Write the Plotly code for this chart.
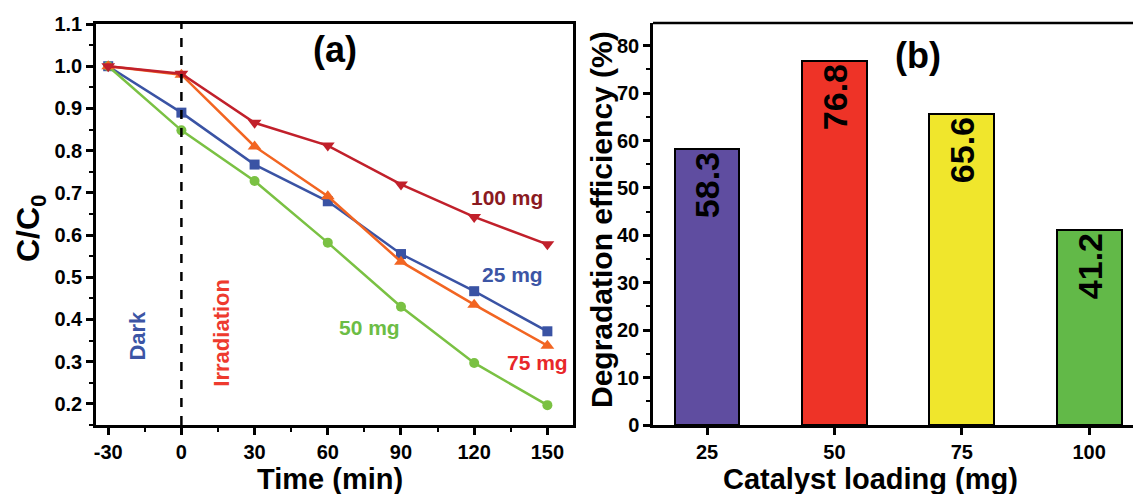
import plotly.graph_objects as go

# ---- data ----
time_min = [-30, 0, 30, 60, 90, 120, 150]
time_labels = ["-30", "0", "30", "60", "90", "120", "150"]
c25 = [1.0, 0.890, 0.767, 0.680, 0.555, 0.467, 0.372]
c50 = [1.0, 0.848, 0.728, 0.582, 0.430, 0.297, 0.197]
c75 = [1.0, 0.980, 0.810, 0.692, 0.537, 0.435, 0.338]
c100 = [1.0, 0.982, 0.866, 0.812, 0.720, 0.643, 0.578]

loading = [25, 50, 75, 100]
efficiency = [58.3, 76.8, 65.6, 41.2]
bar_colors = ["#5F4DA0", "#EE3327", "#F0E62C", "#62B948"]

FONT = "Arial, Liberation Sans, sans-serif"
W, H = 1133, 494

def px(x):
    return x / W

def py(y):
    return 1 - y / H

fig = go.Figure()

series = [
    ("25 mg", c25, "#3A53A4", "square", 10),
    ("50 mg", c50, "#7AC143", "circle", 10),
    ("75 mg", c75, "#F26522", "triangle-up", 12),
    ("100 mg", c100, "#C1202B", "triangle-down", 12),
]
for name, vals, col, sym, sz in series:
    fig.add_trace(go.Scatter(
        x=time_min, y=vals, mode="lines+markers", name=name,
        line=dict(color=col, width=2.5),
        marker=dict(symbol=sym, size=sz, color=col),
        xaxis="x", yaxis="y", showlegend=False))

fig.add_trace(go.Bar(
    x=loading, y=efficiency, width=12.7,
    marker=dict(color=bar_colors, line=dict(color="black", width=2)),
    text=[f"{v:.1f}" for v in efficiency], textposition="inside",
    insidetextanchor="end", textangle=-90,
    textfont=dict(family=FONT, size=34, color="black", weight="bold"),
    constraintext="none",
    xaxis="x2", yaxis="y2", showlegend=False))

tickfont = dict(family=FONT, size=20, color="black", weight="bold")
axis_common = dict(showline=True, linecolor="black", linewidth=2.5,
                   ticks="outside", ticklen=7, tickwidth=2.5, tickcolor="black",
                   showgrid=False, zeroline=False, tickfont=tickfont,
                   automargin=False)

fig.update_layout(
    width=W, height=H, margin=dict(l=0, r=0, t=0, b=0, autoexpand=False),
    plot_bgcolor="white", paper_bgcolor="white",
    font=dict(family=FONT, color="black"),
    bargap=0,
    xaxis=dict(domain=[px(96), px(573)], range=[-35, 160.5], anchor="y",
               tickvals=time_min, ticktext=time_labels, mirror=True,
               minor=dict(dtick=15, tick0=-30, ticks="outside", ticklen=4,
                          tickwidth=2, tickcolor="black"),
               **axis_common),
    yaxis=dict(domain=[py(425), py(24)], range=[0.15, 1.1], anchor="x",
               dtick=0.1, tickformat=".1f", mirror=True,
               minor=dict(dtick=0.05, ticks="outside", ticklen=4,
                          tickwidth=2, tickcolor="black"),
               **axis_common),
    xaxis2=dict(domain=[px(653), 1.0], range=[14.4, 108.6], anchor="y2",
                tickvals=loading, mirror=False, **axis_common),
    yaxis2=dict(domain=[py(425), py(23)], range=[0, 84.8], anchor="x2",
                dtick=10, mirror=False,
                minor=dict(dtick=5, ticks="outside", ticklen=4,
                           tickwidth=2, tickcolor="black"),
                **axis_common),
)

# top border of right panel
fig.add_shape(type="line", xref="x2 domain", yref="y2 domain",
              x0=0, x1=1, y0=1, y1=1, line=dict(color="black", width=2.5))
# dashed divider at t = 0
fig.add_shape(type="line", xref="x", yref="y domain", x0=0, x1=0, y0=0, y1=1,
              line=dict(color="black", width=2.5, dash="dash"))

def ann(text, x, y, color, size=21, xref="x", yref="y", angle=0):
    fig.add_annotation(text=text, x=x, y=y, xref=xref, yref=yref,
                       xanchor="center", yanchor="middle",
                       showarrow=False, textangle=angle,
                       font=dict(family=FONT, size=size, color=color, weight="bold"))

ann("(a)", 63, 1.04, "black", size=36)
ann("100 mg", 133.5, 0.69, "#8B1A1F")
ann("25 mg", 135.5, 0.506, "#3C55A5")
ann("75 mg", 146, 0.297, "#E8272A")
ann("50 mg", 77, 0.38, "#6CBD45")
ann("Dark", -18, 0.363, "#3C55A5", size=22, angle=-90)
ann("Irradiation", 16.5, 0.368, "#EE3A2E", size=22, angle=-90)
ann("(b)", 66.4, 78, "black", size=36, xref="x2", yref="y2")

# axis titles
ann("C/C<sub>0</sub>", px(30), py(228), "black", size=32, xref="paper", yref="paper", angle=-90)
ann("Time (min)", px(330), py(479), "black", size=29, xref="paper", yref="paper")
ann("Degradation efficiency (%)", px(601), py(220), "black", size=30,
    xref="paper", yref="paper", angle=-90)
ann("Catalyst loading (mg)", px(870), py(479), "black", size=29, xref="paper", yref="paper")

fig.write_html("out.html", config={"displayModeBar": False},
               post_script="document.body.style.margin='0';")
